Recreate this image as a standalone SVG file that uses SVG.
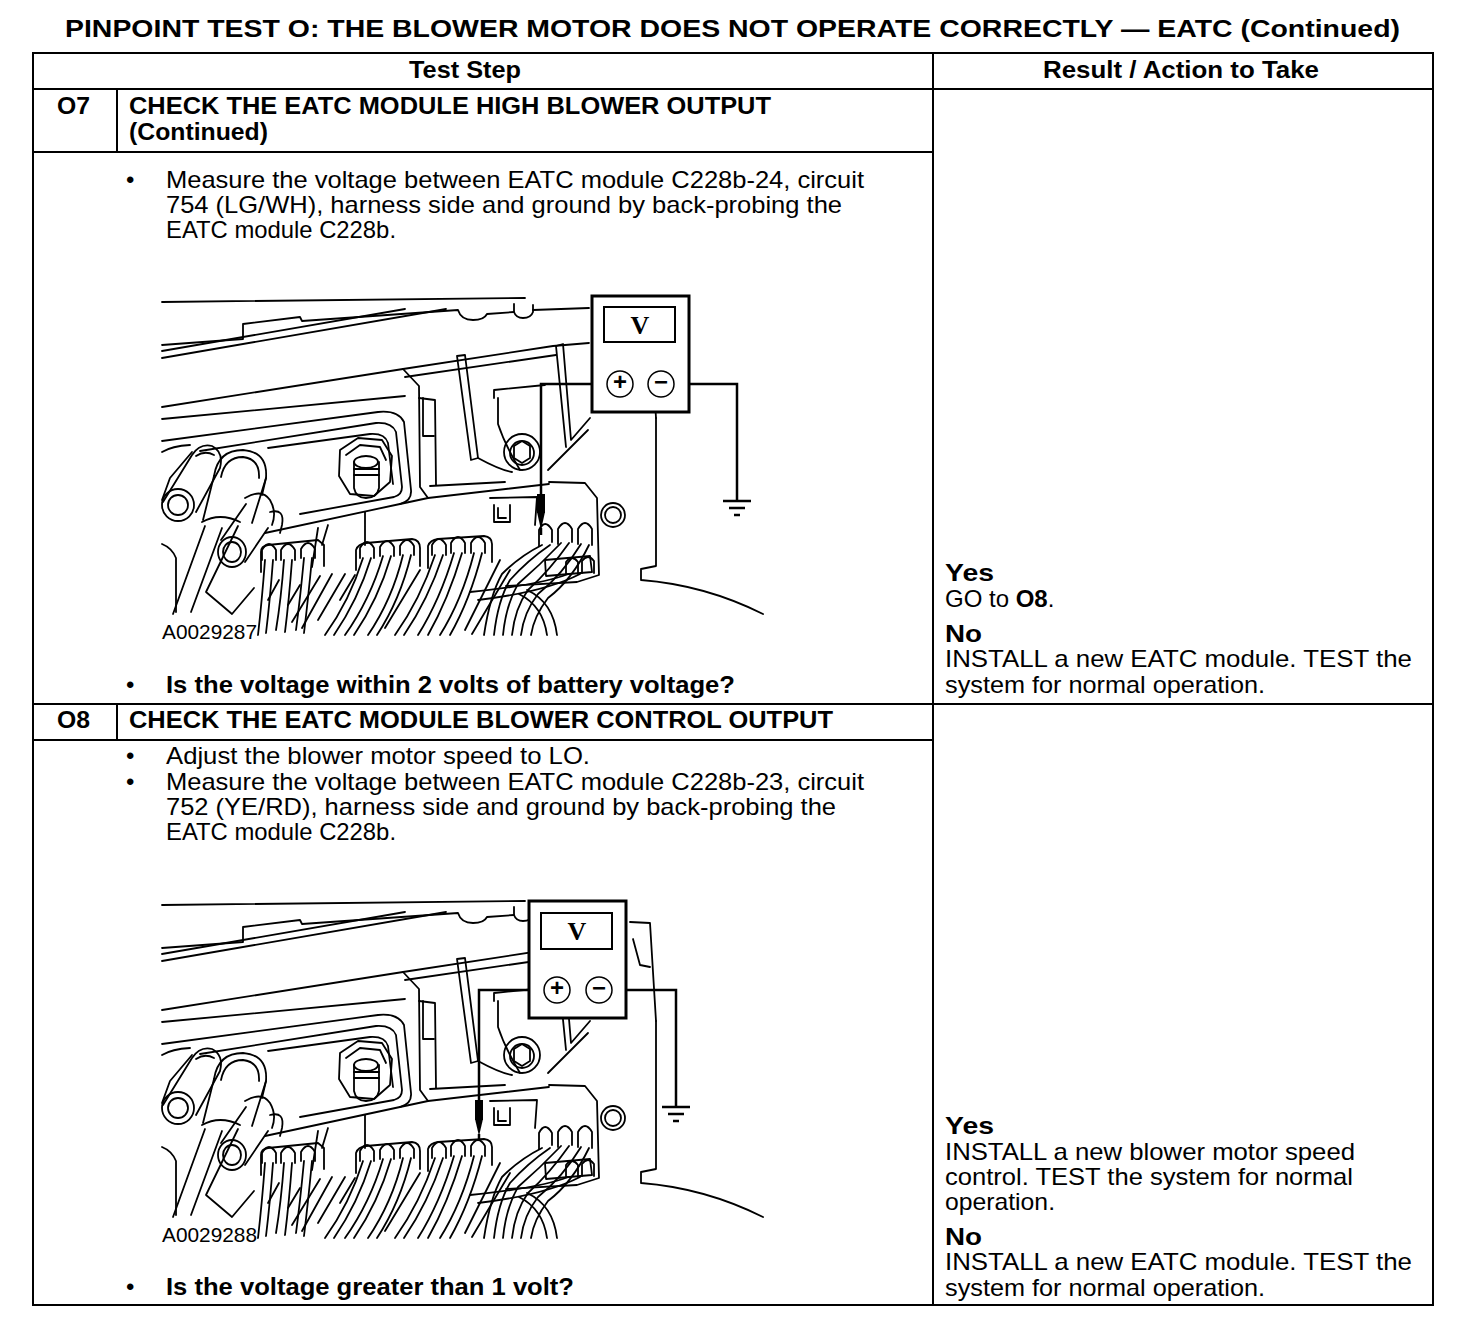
<svg xmlns="http://www.w3.org/2000/svg" xmlns:xlink="http://www.w3.org/1999/xlink" width="1472" height="1332" viewBox="0 0 1472 1332">
<style>
.t{font-family:"Liberation Sans",Arial,Helvetica,sans-serif;font-size:24px;fill:#000}
.b{font-weight:bold}
.h{font-family:"Liberation Sans",Arial,Helvetica,sans-serif;font-size:24px;font-weight:bold;fill:#000}
.grid{stroke:#000;stroke-width:2;fill:none}
.art{stroke:#000;stroke-width:1.8;fill:none;stroke-linecap:round;stroke-linejoin:round}
.mbox{stroke:#000;stroke-width:3;fill:#fff}
.disp{stroke:#000;stroke-width:2;fill:#fff}
.term{stroke:#000;stroke-width:1.5;fill:#fff}
.lead{stroke:#000;stroke-width:2.5;fill:none}
.lbl{font-family:"Liberation Sans",Arial,Helvetica,sans-serif;font-size:21px;fill:#000}
</style>
<defs>
<g id="art" class="art">
<path d="M162,302 L525,298"/>
<path d="M514,304 L514,312 Q516,318 523,318 Q531,318 533,312 L533,305"/>
<path d="M533,310 L589,308"/>
<path d="M162,345 L243,339 L243,324 L300,317 L302,321 L458,310 Q461,320 473,320 Q484,320 487,314 L514,312"/>
<path d="M162,351 L405,309"/>
<path d="M162,358 L446,309"/>
<path d="M162,407 L403,369 L553,346 L589,343"/>
<path d="M405,377 L556,355"/>
<path d="M162,419 L405,396"/>
<path d="M630,319 L650,320 L656,418"/>
<path d="M633,336 L640,362 L650,364"/>
<path d="M162,441 L378,412 Q398,410 404,422 L411,490 Q412,501 400,504 L265,533"/>
<path d="M200,451 L376,423 Q392,422 396,432 L402,487 Q402,495 394,497 L300,514"/>
<path d="M268,448 L370,434 Q385,433 388,443 L393,484"/>
<path d="M403,369 L419,386 L420,487 L428,498"/>
<path d="M419,398 L435,400 L436,485"/>
<path d="M423,398 L423,436 L434,436"/>
<path d="M457,356 L465,355 L478,458 L471,460 Z"/>
<path d="M494,398 L494,390 L545,385"/>
<path d="M498,398 L498,424 Q505,445 520,470"/>
<path d="M478,458 Q500,470 512,472"/>
<path d="M556,346 L563,344 L571,440 L590,418"/>
<path d="M556,346 L566,447"/>
<path d="M548,470 L588,430"/>
<path d="M400,504 L428,498 L549,484"/>
<path d="M430,486 L505,482"/>
<path d="M162,452 Q172,446 190,445"/>
<path d="M162,500 L170,478 L192,452"/>
<path d="M163,502 L192,455 Q200,443 212,446 Q224,452 220,468 L196,512"/>
<path d="M196,456 Q205,450 214,455"/>
<ellipse cx="178" cy="505" rx="16" ry="16"/>
<ellipse cx="178" cy="505" rx="10" ry="10"/>
<path d="M214,476 Q218,450 243,450 Q268,452 266,478 L262,495"/>
<path d="M221,477 Q225,457 243,457 Q260,459 259,478"/>
<path d="M214,476 L203,520 M266,478 L252,523"/>
<path d="M202,522 Q220,512 240,522"/>
<path d="M205,526 L173,614"/>
<path d="M222,528 L191,612"/>
<path d="M238,526 L206,592 L232,614 L254,588"/>
<path d="M162,544 Q172,548 176,558 L176,612"/>
<path d="M245,498 Q262,488 270,500 Q277,512 272,525"/>
<ellipse cx="232" cy="552" rx="14" ry="15"/>
<ellipse cx="232" cy="552" rx="9" ry="10"/>
<path d="M221,540 L246,504"/>
<path d="M245,562 L268,528"/>
<path d="M270,512 Q285,508 282,525 L280,533"/>
<path d="M340,450 L358,438 L382,440 L392,456 L390,482 L374,496 L350,494 L339,476 Z"/>
<path d="M346,455 L360,445 L380,447 L386,460"/>
<path d="M354,462 L354,488 Q356,498 366,498 Q377,498 379,488 L379,462"/>
<ellipse cx="366" cy="462" rx="12" ry="6"/>
<path d="M354,469 L379,469 M354,475 L379,475"/>
<circle cx="522" cy="452" r="18"/>
<circle cx="522" cy="453" r="12"/>
<path d="M514,446 L522,441 L530,446 L530,458 L522,463 L514,458 Z"/>
<circle cx="613" cy="515" r="12"/>
<circle cx="613" cy="515" r="8"/>
<path d="M549,482 L585,483 L597,498 L599,575 L577,582 L506,586"/>
<path d="M490,498 L537,497 L535,525"/>
<path d="M494,505 L494,522 L510,522 L510,505 M498,508 L498,518 L506,518"/>
<path d="M318,528 L312,567 M328,525 L322,545 M365,512 L365,545"/>
<path d="M261,572 L261,552 Q261,546 268,545 L318,540 L324,545 L324,566"/>
<path d="M262,560 L262,550 Q269,538 276,550 L276,560 M281,560 L281,550 Q288,538 295,550 L295,560 M301,558 L301,549 Q308,537 315,549 L315,558"/>
<path d="M356,570 L356,550 Q358,544 366,543 L412,539 Q420,540 420,548 L420,566"/>
<path d="M360,558 L360,548 Q367,536 374,548 L374,558 M380,556 L380,547 Q387,535 394,547 L394,556 M400,555 L400,546 Q407,534 414,546 L414,555"/>
<path d="M428,568 L428,546 Q430,540 438,539 L484,536 Q492,537 492,544 L492,562"/>
<path d="M432,555 L432,545 Q439,533 446,545 L446,555 M451,553 L451,543 Q458,531 465,543 L465,553 M471,553 L471,543 Q478,531 485,543 L485,553"/>
<path d="M539,546 L539,530 Q545,518 552,530 L552,542 M558,544 L558,529 Q565,517 572,529 L572,542 M578,544 L578,529 Q585,517 592,529 L592,545"/>
<path d="M545,560 L590,556 L592,572 L546,576 Z"/>
<path d="M566,574 L566,562 Q572,554 578,562 L578,574 M582,573 L582,561 Q588,553 594,561 L594,573"/>
<path d="M265,560 Q262,600 258,635 M273,560 Q270,600 266,633"/>
<path d="M284,560 Q281,600 276,630 M292,560 Q289,600 285,632"/>
<path d="M304,558 Q300,600 296,630 M312,558 Q308,600 304,633"/>
<path d="M363,558 Q350,600 325,635 M371,558 Q358,600 334,635"/>
<path d="M383,556 Q370,600 345,635 M391,556 Q378,600 354,635"/>
<path d="M403,555 Q392,600 368,635 M411,555 Q400,600 377,635"/>
<path d="M435,555 Q420,600 395,635 M443,555 Q428,600 404,635"/>
<path d="M454,553 Q440,600 418,635 M462,553 Q448,600 428,635"/>
<path d="M474,553 Q462,600 440,635 M482,553 Q470,600 450,635"/>
<path d="M542,545 Q520,556 502,574 Q490,595 484,635 M550,545 Q528,560 510,580 Q498,600 494,635"/>
<path d="M561,543 Q540,565 518,584 Q506,605 503,635 M569,543 Q550,570 528,590 Q515,608 512,635"/>
<path d="M581,544 Q562,575 538,594 Q524,612 521,635 M589,545 Q572,580 548,598 Q534,616 531,635"/>
<path d="M568,574 Q540,585 470,592 M580,574 Q545,592 478,600"/>
<path d="M320,576 L292,622 M332,574 L302,628 M345,574 L318,620 M420,570 L385,628 M500,560 L465,630 M510,570 L472,634"/>
<path d="M279,580 L268,600 M300,585 L288,605 M355,575 L340,600"/>
<path d="M656,418 L656,566 L641,569 L641,580 Q705,585 763,614"/>
<path d="M527,590 Q553,602 557,635"/>
<path d="M519,594 Q543,606 547,635"/>
</g>
</defs>
<rect width="1472" height="1332" fill="#fff"/>
<g id="title">
<text class="h" x="65" y="37" font-size="26" textLength="1335" lengthAdjust="spacingAndGlyphs">PINPOINT TEST O: THE BLOWER MOTOR DOES NOT OPERATE CORRECTLY — EATC (Continued)</text>
</g>
<g id="table" class="grid">
<rect x="33" y="53" width="1400" height="1252"/>
<path d="M933,53 V1305"/>
<path d="M33,89 H1433"/>
<path d="M33,152 H933"/>
<path d="M33,704 H1433"/>
<path d="M33,740 H933"/>
<path d="M117,89 V152"/>
<path d="M117,704 V740"/>
</g>
<g id="header">
<text class="h" x="409" y="78" font-size="22" textLength="112" lengthAdjust="spacingAndGlyphs">Test Step</text>
<text class="h" x="1043" y="78" font-size="22" textLength="276" lengthAdjust="spacingAndGlyphs">Result / Action to Take</text>
</g>
<g id="step-o7">
<text class="h" x="57" y="114" textLength="33" lengthAdjust="spacingAndGlyphs">O7</text>
<text class="h" x="129" y="114" textLength="642" lengthAdjust="spacingAndGlyphs">CHECK THE EATC MODULE HIGH BLOWER OUTPUT</text>
<text class="h" x="129" y="140" textLength="139" lengthAdjust="spacingAndGlyphs">(Continued)</text>
<text class="t" x="126" y="188">•</text>
<text class="t" x="166" y="188" textLength="698" lengthAdjust="spacingAndGlyphs">Measure the voltage between EATC module C228b-24, circuit</text>
<text class="t" x="166" y="213" textLength="676" lengthAdjust="spacingAndGlyphs">754 (LG/WH), harness side and ground by back-probing the</text>
<text class="t" x="166" y="238" textLength="230" lengthAdjust="spacingAndGlyphs">EATC module C228b.</text>
<text class="lbl" x="162" y="639" textLength="95" lengthAdjust="spacingAndGlyphs">A0029287</text>
<text class="t" x="126" y="693">•</text>
<text class="h" x="166" y="693" textLength="569" lengthAdjust="spacingAndGlyphs">Is the voltage within 2 volts of battery voltage?</text>
</g>
<g id="illus-o7">
<use xlink:href="#art"/>
<g id="meter-o7">
<path class="lead" d="M607,384 H541 V496"/>
<rect x="537" y="494" width="8" height="19" fill="#000"/>
<path d="M537,512 L545,512 L541,530 Z" fill="#000"/>
<path class="lead" d="M541,528 V535" stroke-width="1.5"/>
<path class="lead" d="M674,384 H737 V500"/>
<path class="lead" d="M723,501 H751 M729,508 H745 M734,515 H740"/>
<rect class="mbox" x="592" y="296" width="97" height="116"/>
<rect class="disp" x="604" y="307" width="71" height="35"/>
<text x="640" y="334" font-family="'Liberation Serif',serif" font-size="26" font-weight="bold" text-anchor="middle">V</text>
<circle class="term" cx="620" cy="384" r="13"/>
<circle class="term" cx="661" cy="384" r="13"/>
<text class="t b" x="620" y="390" font-size="18" text-anchor="middle">+</text>
<text class="t b" x="661" y="390" font-size="18" text-anchor="middle">−</text>
</g>
</g>
<g id="results-o7">
<text class="h" x="945" y="581" font-size="26" textLength="49" lengthAdjust="spacingAndGlyphs">Yes</text>
<text class="t" x="945" y="607">GO to <tspan class="b">O8</tspan>.</text>
<text class="h" x="945" y="642" font-size="26" textLength="37" lengthAdjust="spacingAndGlyphs">No</text>
<text class="t" x="945" y="667" textLength="467" lengthAdjust="spacingAndGlyphs">INSTALL a new EATC module. TEST the</text>
<text class="t" x="945" y="693" textLength="320" lengthAdjust="spacingAndGlyphs">system for normal operation.</text>
</g>
<g id="step-o8">
<text class="h" x="57" y="728" textLength="33" lengthAdjust="spacingAndGlyphs">O8</text>
<text class="h" x="129" y="728" textLength="704" lengthAdjust="spacingAndGlyphs">CHECK THE EATC MODULE BLOWER CONTROL OUTPUT</text>
<text class="t" x="126" y="764">•</text>
<text class="t" x="166" y="764" textLength="424" lengthAdjust="spacingAndGlyphs">Adjust the blower motor speed to LO.</text>
<text class="t" x="126" y="790">•</text>
<text class="t" x="166" y="790" textLength="698" lengthAdjust="spacingAndGlyphs">Measure the voltage between EATC module C228b-23, circuit</text>
<text class="t" x="166" y="815" textLength="670" lengthAdjust="spacingAndGlyphs">752 (YE/RD), harness side and ground by back-probing the</text>
<text class="t" x="166" y="840" textLength="230" lengthAdjust="spacingAndGlyphs">EATC module C228b.</text>
<text class="lbl" x="162" y="1242" textLength="95" lengthAdjust="spacingAndGlyphs">A0029288</text>
<text class="t" x="126" y="1295">•</text>
<text class="h" x="166" y="1295" textLength="408" lengthAdjust="spacingAndGlyphs">Is the voltage greater than 1 volt?</text>
</g>
<g id="illus-o8">
<use xlink:href="#art" transform="translate(0,603)"/>
<g id="meter-o8">
<path class="lead" d="M544,990 H479 V1102"/>
<rect x="475" y="1100" width="8" height="20" fill="#000"/>
<path d="M475,1119 L483,1119 L479,1136 Z" fill="#000"/>
<path class="lead" d="M479,1134 V1141" stroke-width="1.5"/>
<path class="lead" d="M612,990 H676 V1106"/>
<path class="lead" d="M662,1107 H690 M668,1114 H684 M673,1121 H679"/>
<rect class="mbox" x="529" y="901" width="97" height="117"/>
<rect class="disp" x="541" y="913" width="71" height="36"/>
<text x="577" y="940" font-family="'Liberation Serif',serif" font-size="26" font-weight="bold" text-anchor="middle">V</text>
<circle class="term" cx="557" cy="990" r="13"/>
<circle class="term" cx="599" cy="990" r="13"/>
<text class="t b" x="557" y="996" font-size="18" text-anchor="middle">+</text>
<text class="t b" x="599" y="996" font-size="18" text-anchor="middle">−</text>
</g>
</g>
<g id="results-o8">
<text class="h" x="945" y="1134" font-size="26" textLength="49" lengthAdjust="spacingAndGlyphs">Yes</text>
<text class="t" x="945" y="1160" textLength="410" lengthAdjust="spacingAndGlyphs">INSTALL a new blower motor speed</text>
<text class="t" x="945" y="1185" textLength="408" lengthAdjust="spacingAndGlyphs">control. TEST the system for normal</text>
<text class="t" x="945" y="1210" textLength="110" lengthAdjust="spacingAndGlyphs">operation.</text>
<text class="h" x="945" y="1245" font-size="26" textLength="37" lengthAdjust="spacingAndGlyphs">No</text>
<text class="t" x="945" y="1270" textLength="467" lengthAdjust="spacingAndGlyphs">INSTALL a new EATC module. TEST the</text>
<text class="t" x="945" y="1296" textLength="320" lengthAdjust="spacingAndGlyphs">system for normal operation.</text>
</g>
</svg>
